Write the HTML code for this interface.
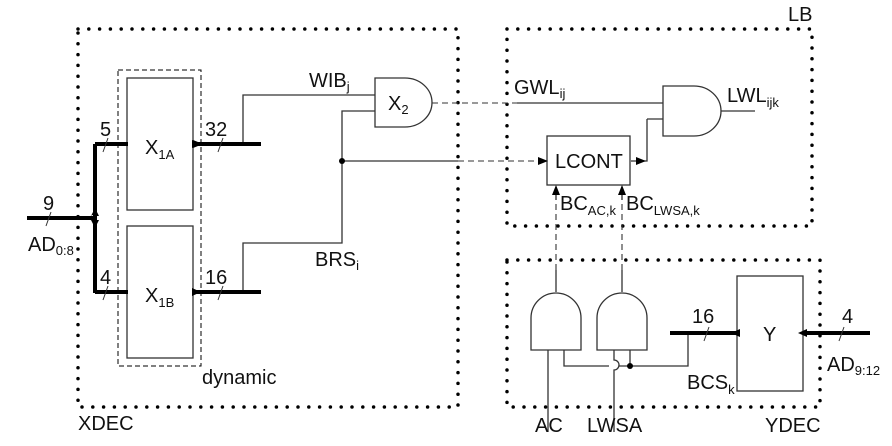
<!DOCTYPE html>
<html><head><style>
html,body{margin:0;padding:0;background:#fff}
svg{display:block}
text{font-family:"Liberation Sans",sans-serif;font-size:20px;fill:#111}
.s{font-size:13px}
</style></head><body>
<svg width="892" height="446" viewBox="0 0 892 446" xmlns="http://www.w3.org/2000/svg">
<defs>
<marker id="a" markerWidth="10" markerHeight="8" refX="9" refY="4" orient="auto" markerUnits="userSpaceOnUse"><path d="M0,0 L10,4 L0,8 z" fill="#000"/></marker>
</defs>
<g fill="none" stroke="#000" stroke-width="3.5" stroke-linecap="round" stroke-dasharray="0 10.8">
<rect x="78" y="29" width="380" height="378"/>
<rect x="507" y="29" width="305" height="197"/>
<rect x="507" y="260" width="313" height="147"/>
</g>
<rect x="118" y="70" width="83" height="296" fill="none" stroke="#000" stroke-width="1" stroke-dasharray="5 3"/>
<g fill="none" stroke="#333" stroke-width="1.3">
<rect x="127" y="78" width="66" height="132"/>
<rect x="127" y="226" width="66" height="132"/>
<rect x="547" y="136" width="83" height="49"/>
<rect x="737" y="276" width="66" height="115"/>
<path d="M375,78 H405 A27,24.5 0 0 1 405,127 H375 Z"/>
<path d="M663,86 H694 A27,25 0 0 1 694,136 H663 Z"/>
<path d="M531,350 V318 A25,25 0 0 1 581,318 V350 Z"/>
<path d="M597,350 V318 A25,25 0 0 1 647,318 V350 Z"/>
<path d="M243,144 V95 H375"/>
<path d="M243,292 V243 H342 V111 H375"/>
<path d="M342,161 H458"/>
<path d="M517,103 H663"/>
<path d="M721,111 H755"/>
<path d="M647,119 H663 M647,119 V161 H631"/>
<path d="M548,350 V432"/>
<path d="M614,350 V360 A5,5 0 0 1 614,370 V432"/>
<path d="M564,350 V366 H609 M619,366 H688 V333"/>
<path d="M630,350 V366"/>
<path d="M556,292 V270"/>
<path d="M622,292 V270"/>
</g>
<g fill="none" stroke="#333" stroke-width="1.1" stroke-dasharray="6 4">
<path d="M432,103 H517"/>
<path d="M458,161 H540"/>
<path d="M556,270 V192"/>
<path d="M622,270 V192"/>
</g>
<path d="M540,161 H547" stroke="#000" marker-end="url(#a)"/>
<path d="M631,161 H645" stroke="#000" stroke-width="0.1" marker-end="url(#a)"/>
<path d="M556,200 V186" stroke="#000" stroke-width="1" marker-end="url(#a)"/>
<path d="M622,200 V186" stroke="#000" stroke-width="1" marker-end="url(#a)"/>
<circle cx="342" cy="161" r="3" fill="#000"/>
<circle cx="630" cy="366" r="3" fill="#000"/>
<g fill="none" stroke="#000" stroke-width="4">
<path d="M27,218 H95 M95,144 V293 M95,144 H128 M95,292 H128"/>
<path d="M193,144 H261 M193,292 H261"/>
<path d="M670,333 H738 M803,333 H870"/>
</g>
<g stroke="#000" stroke-width="1">
<path d="M194,144 h8" marker-end="url(#a)"/>
</g>
<path d="M201,144 l-9,-4 v8z M201,292 l-9,-4 v8z M95,208 l-4,8 h8z M95,228 l-4,-8 h8z M86,218 l9,-4 v8z M731,333 l9,-4 v8z M798,333 l9,-4 v8z" fill="#000"/>
<g stroke="#333" stroke-width="1">
<path d="M46,226 l5,-14 M103,152 l5,-14 M103,300 l5,-14 M218,152 l5,-14 M218,300 l5,-14 M704,341 l5,-14 M839,341 l5,-14"/>
</g>
<text x="43" y="210">9</text>
<text x="28" y="251">AD<tspan class="s" dy="4">0:8</tspan></text>
<text x="100" y="136">5</text>
<text x="100" y="284">4</text>
<text x="205" y="136">32</text>
<text x="205" y="284">16</text>
<text x="145" y="154">X<tspan class="s" dy="5">1A</tspan></text>
<text x="145" y="302">X<tspan class="s" dy="5">1B</tspan></text>
<text x="309" y="87">WIB<tspan class="s" dy="4">j</tspan></text>
<text x="388" y="110">X<tspan class="s" dy="4">2</tspan></text>
<text x="315" y="266">BRS<tspan class="s" dy="4">i</tspan></text>
<text x="202" y="384">dynamic</text>
<text x="78" y="430">XDEC</text>
<text x="788" y="21">LB</text>
<text x="514" y="94">GWL<tspan class="s" dy="4">ij</tspan></text>
<text x="727" y="102">LWL<tspan class="s" dy="5">ijk</tspan></text>
<text x="555" y="168">LCONT</text>
<text x="560" y="210">BC<tspan class="s" dy="5">AC,k</tspan></text>
<text x="626" y="210">BC<tspan class="s" dy="5">LWSA,k</tspan></text>
<text x="692" y="323">16</text>
<text x="842" y="323">4</text>
<text x="763" y="341">Y</text>
<text x="827" y="371">AD<tspan class="s" dy="4">9:12</tspan></text>
<text x="687" y="389">BCS<tspan class="s" dy="5">k</tspan></text>
<text x="535" y="432">AC</text>
<text x="587" y="432">LWSA</text>
<text x="765" y="432">YDEC</text>
</svg>
</body></html>
